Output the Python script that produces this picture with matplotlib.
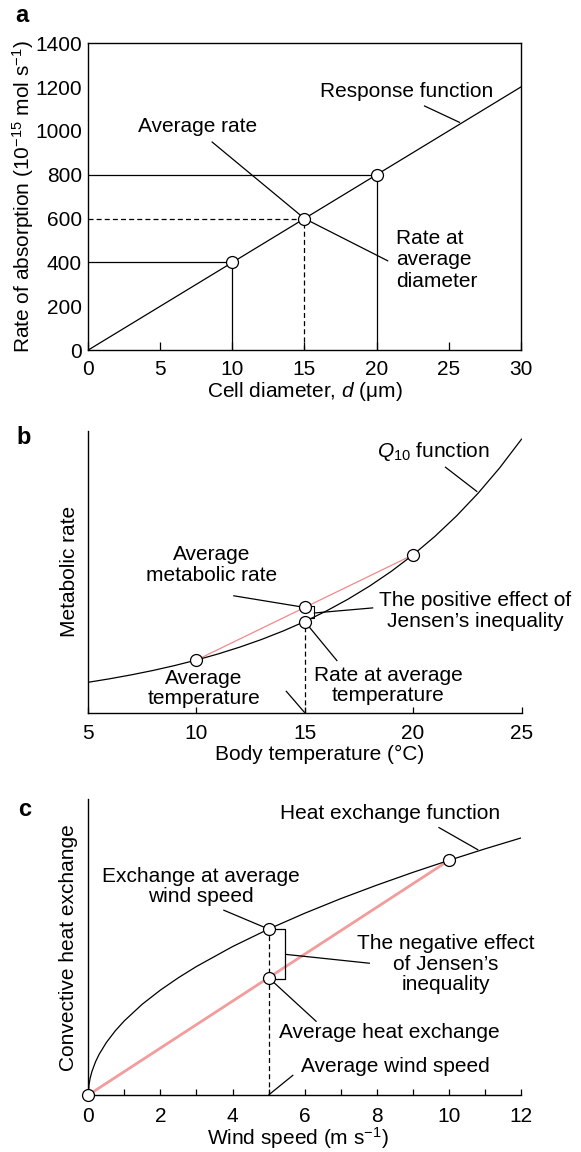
import numpy as np
import matplotlib
matplotlib.use("Agg")
import matplotlib.pyplot as plt
from matplotlib.ticker import MultipleLocator

plt.rcParams['font.family'] = ['Liberation Sans', 'DejaVu Sans']
plt.rcParams['mathtext.fontset'] = 'custom'
plt.rcParams['mathtext.rm'] = 'Liberation Sans'
plt.rcParams['mathtext.it'] = 'Liberation Sans:italic'
plt.rcParams['axes.linewidth'] = 1.0

# --- panel a: absorption vs cell diameter
diam_line = [0, 30]
rate_line = [0, 1200]
diam_pts = [10, 15, 20]
rate_pts = [400, 600, 800]

temp = [5, 6, 7, 8, 9, 10, 11, 12, 13, 14, 15, 16, 17, 18, 19, 20, 21, 22, 23, 24, 25]
met = [1.00, 1.116, 1.246, 1.390, 1.552, 1.732, 1.933, 2.158, 2.408, 2.688, 3.00,
       3.348, 3.737, 4.171, 4.655, 5.196, 5.799, 6.473, 7.224, 8.063, 9.00]
temp_pts = [10, 15, 20]
met_pts = [1.732, 3.00, 5.196]
met_avg = 3.464

# --- panel c: heat exchange vs wind speed
wind = [0, 0.02, 0.05, 0.1, 0.2, 0.3, 0.5, 0.75, 1, 1.5, 2, 2.5, 3, 4, 5, 6, 7, 8, 9, 10, 11, 12]
heat = [0, 0.141, 0.224, 0.316, 0.447, 0.548, 0.707, 0.866, 1.0, 1.225, 1.414, 1.581,
        1.732, 2.0, 2.236, 2.449, 2.646, 2.828, 3.0, 3.162, 3.317, 3.464]
wind_pts = [0, 5, 10]
heat_pts = [0, 2.236, 3.162]
heat_avg = 1.581

TXT = 15
TICK = 15
LW = 0.9
PINK_THIN = '#f08a8a'
PINK = '#f29c9c'
DASH = (0, (4, 2.5))

def circulo(ax, x, y):
    ax.plot(x, y, 'o', ms=8.6, mfc='white', mec='black', mew=0.9, zorder=6, clip_on=False)

def linea(ax, x0, y0, x1, y1, **kw):
    ax.plot([x0, x1], [y0, y1], color='black', lw=LW, solid_capstyle='butt', clip_on=False, **kw)

fig = plt.figure(figsize=(5.81, 11.52), dpi=100)

# ================= a =================
ax = fig.add_axes([88.3 / 581, 1 - 350 / 1152, 432.4 / 581, 306.7 / 1152])
ax.plot(diam_line, rate_line, color='black', lw=LW)
for d, r in zip(diam_pts, rate_pts):
    ls = DASH if d == 15 else '-'
    linea(ax, 0, r, d, r, linestyle=ls)
    linea(ax, d, 0, d, r, linestyle=ls)
    circulo(ax, d, r)
ax.set_xlim(0, 30)
ax.set_ylim(0, 1400)
ax.set_xticks(range(0, 31, 5))
ax.set_yticks(range(0, 1401, 200))
ax.tick_params(axis='x', direction='in', length=6, width=0.9, labelsize=TICK, pad=7)
ax.tick_params(axis='y', length=0, labelsize=TICK, pad=4.5)
ax.set_xlabel('Cell diameter, $d$ (μm)', fontsize=TXT)
ax.set_ylabel('Rate of absorption (10$^{-15}$ mol s$^{-1}$)', fontsize=TXT)
ax.xaxis.set_label_coords(0.5, -0.136)
ax.yaxis.set_label_coords(-0.151, 0.5)
ax.xaxis.label.set_va('center')
ax.yaxis.label.set_va('center')

ax.text(7.6, 1019, 'Average rate', fontsize=TXT, ha='center', va='center')
linea(ax, 8.56, 951, 15, 600)
ax.text(22.1, 1179, 'Response function', fontsize=TXT, ha='center', va='center')
linea(ax, 23.29, 1115, 25.79, 1038)
ax.text(21.35, 411, 'Rate at\naverage\ndiameter', fontsize=TXT, ha='left', va='center', linespacing=1.15)
linea(ax, 15, 600, 20.81, 406)

# ================= b =================
ax = fig.add_axes([88 / 581, 1 - 712.7 / 1152, 433.5 / 581, 281.7 / 1152])
ax.plot(temp, met, color='black', lw=LW, zorder=3)
ax.plot([temp_pts[0], temp_pts[2]], [met_pts[0], met_pts[2]], color=PINK_THIN, lw=0.9, zorder=2)
linea(ax, 15, 0, 15, met_pts[1], linestyle=DASH)
for t, m in zip(temp_pts, met_pts):
    circulo(ax, t, m)
circulo(ax, 15, met_avg)
ax.set_xlim(5, 25)
ax.set_ylim(0, 9.27)
ax.set_xticks(range(5, 26, 5))
ax.set_yticks([])
for s in ['top', 'right']:
    ax.spines[s].set_visible(False)
ax.tick_params(axis='x', direction='in', length=4, width=0.9, labelsize=TICK, pad=8)
ax.set_xlabel('Body temperature (°C)', fontsize=TXT)
ax.set_ylabel('Metabolic rate', fontsize=TXT)
ax.xaxis.set_label_coords(0.535, -0.148)
ax.yaxis.set_label_coords(-0.043, 0.5)
ax.xaxis.label.set_va('center')
ax.yaxis.label.set_va('center')

ax.text(10.71, 4.86, 'Average\nmetabolic rate', fontsize=TXT, ha='center', va='center', linespacing=1.1)
linea(ax, 11.70, 3.85, 15, met_avg)
# small bracket between the two points
ax.plot([15.22, 15.42, 15.42, 15.22], [3.50, 3.50, 3.10, 3.10], color='black', lw=0.8, zorder=5)
linea(ax, 15.42, 3.28, 18.16, 3.45)
ax.text(22.85, 3.35, 'The positive effect of\nJensen’s inequality', fontsize=TXT, ha='center',
        va='center', linespacing=1.1)
ax.text(18.86, 0.90, 'Rate at average\ntemperature', fontsize=TXT, ha='center', va='center', linespacing=1.1)
linea(ax, 16.50, 1.70, 15, met_pts[1])
ax.text(10.35, 0.79, 'Average\ntemperature', fontsize=TXT, ha='center', va='center', linespacing=1.1)
linea(ax, 14.13, 0.72, 15, 0)
ax.text(20.93, 8.59, '$Q_{10}$ function', fontsize=TXT, ha='center', va='center')
linea(ax, 21.47, 8.09, 22.96, 7.27)

# ================= c =================
ax = fig.add_axes([88.3 / 581, 1 - 1095 / 1152, 432.7 / 581, 295.7 / 1152])
ax.plot(wind, heat, color='black', lw=LW, zorder=3)
ax.plot([wind_pts[0], wind_pts[2]], [heat_pts[0], heat_pts[2]], color=PINK, lw=2.0, zorder=2,
        solid_capstyle='butt')
linea(ax, 5, 0, 5, heat_pts[1], linestyle=DASH)
for w, h in zip(wind_pts, heat_pts):
    circulo(ax, w, h)
circulo(ax, 5, heat_avg)
ax.set_xlim(0, 12)
ax.set_ylim(0, 3.985)
ax.xaxis.set_major_locator(MultipleLocator(2))
ax.xaxis.set_minor_locator(MultipleLocator(1))
ax.set_yticks([])
for s in ['top', 'right']:
    ax.spines[s].set_visible(False)
ax.tick_params(axis='x', which='both', direction='in', length=4, width=0.9, labelsize=TICK, pad=8.5)
ax.set_xlabel('Wind speed (m s$^{-1}$)', fontsize=TXT)
ax.set_ylabel('Convective heat exchange', fontsize=TXT)
ax.xaxis.set_label_coords(0.485, -0.146)
ax.yaxis.set_label_coords(-0.046, 0.5)
ax.xaxis.label.set_va('center')
ax.yaxis.label.set_va('center')

ax.text(8.37, 3.797, 'Heat exchange function', fontsize=TXT, ha='center', va='center')
linea(ax, 9.71, 3.608, 10.815, 3.302)
ax.text(3.12, 2.807, 'Exchange at average\nwind speed', fontsize=TXT, ha='center', va='center', linespacing=1.1)
linea(ax, 3.744, 2.493, 5, heat_pts[1])
ax.plot([5.18, 5.455, 5.455, 5.18], [2.233, 2.233, 1.559, 1.559], color='black', lw=LW, zorder=5)
linea(ax, 5.455, 1.896, 7.81, 1.775)
ax.text(9.92, 1.765, 'The negative effect\nof Jensen’s\ninequality', fontsize=TXT, ha='center',
        va='center', linespacing=1.1)
ax.text(5.29, 0.84, 'Average heat exchange', fontsize=TXT, ha='left', va='center')
linea(ax, 6.33, 0.988, 5, heat_avg)
ax.text(5.89, 0.381, 'Average wind speed', fontsize=TXT, ha='left', va='center')
linea(ax, 5.685, 0.27, 5, 0)

# panel letters
for letra, (px, py) in zip(['a', 'b', 'c'], [(21.7, 15), (24, 438), (25, 810)]):
    fig.text(px / 581, 1 - py / 1152, letra, fontsize=17, fontweight='bold', ha='center', va='center')

fig.savefig('out.png', dpi=100)
